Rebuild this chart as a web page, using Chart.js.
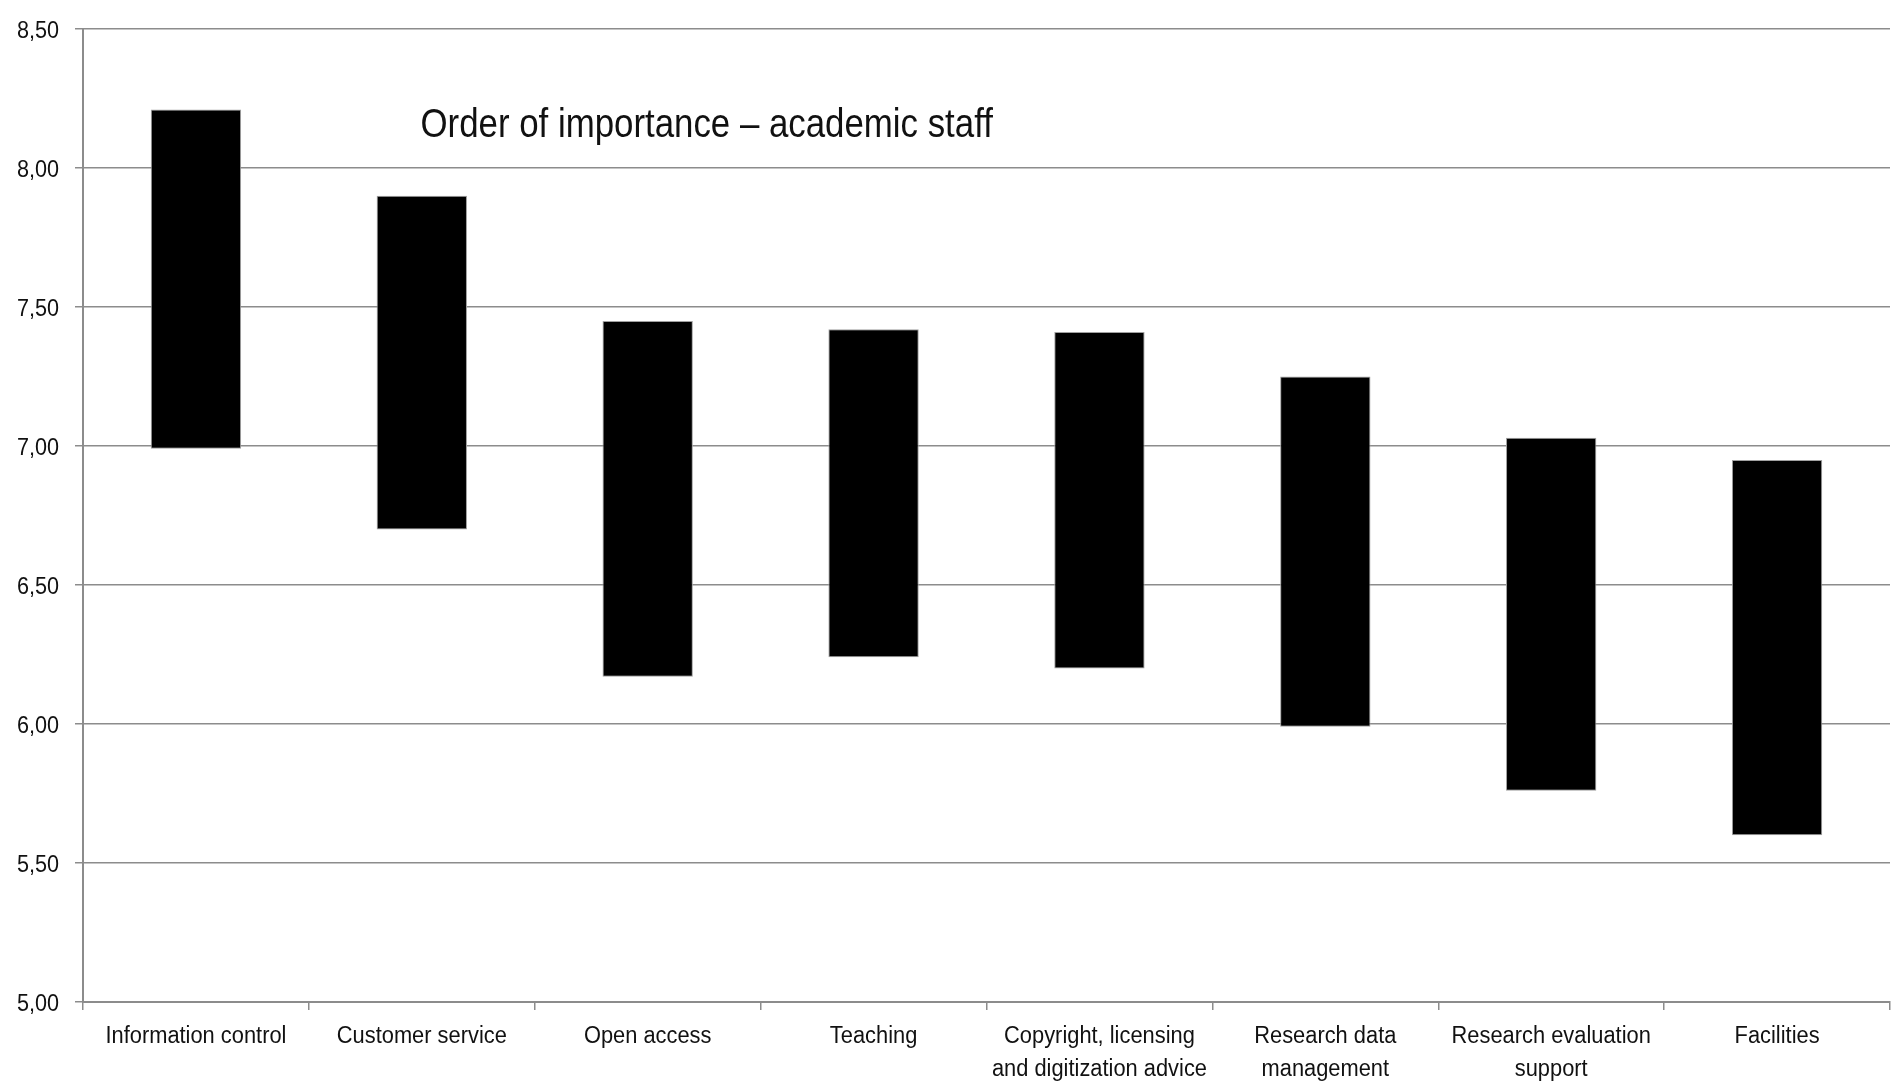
<!DOCTYPE html>
<html>
<head>
<meta charset="utf-8">
<title>Order of importance – academic staff</title>
<script src="https://cdn.jsdelivr.net/npm/chart.js@4/dist/chart.umd.min.js"></script>
<style>
    html, body { margin: 0; padding: 0; background: #fff; }
    canvas { display: block; }
</style>
</head>
<body>
<canvas id="chart" width="1895" height="1083"></canvas>
<script>
// services, in order of importance
var categories = [
    'Information control',
    'Customer service',
    'Open access',
    'Teaching',
    ['Copyright, licensing', 'and digitization advice'],
    ['Research data', 'management'],
    ['Research evaluation', 'support'],
    'Facilities'
];
// range of each bar (low end, high end)
var lowValues = [6.99, 6.70, 6.17, 6.24, 6.20, 5.99, 5.76, 5.60];
var highValues = [8.21, 7.90, 7.45, 7.42, 7.41, 7.25, 7.03, 6.95];
var yMin = 5.0;
var yMax = 8.5;
var yStep = 0.5;
var chartTitle = 'Order of importance – academic staff';

// no narrow face installed, so text is squeezed horizontally instead
var fontFamily = "'Liberation Sans', Arial, sans-serif";
var gridColor = '#8c8c8c';
var textColor = '#111111';

var ranges = [];
for (var i = 0; i < categories.length; i++) {
    ranges.push([lowValues[i], highValues[i]]);
}

function narrowText(ctx, text, x, y, align, size, squeeze) {
    ctx.save();
    ctx.font = size + 'px ' + fontFamily;
    ctx.fillStyle = textColor;
    ctx.textAlign = align;
    ctx.textBaseline = 'alphabetic';
    ctx.translate(x, y);
    ctx.scale(squeeze, 1);
    ctx.fillText(text, 0, 0);
    ctx.restore();
}

function formatTick(value) {
    return value.toFixed(2).replace('.', ',');
}

// tick labels and the title, drawn condensed
var narrowLabels = {
    id: 'narrowLabels',
    afterDraw: function(chart) {
        var ctx = chart.ctx;
        var area = chart.chartArea;
        var xs = chart.scales.x;
        var ys = chart.scales.y;

        ys.ticks.forEach(function(t) {
            narrowText(ctx, formatTick(t.value), ys.right - 24, ys.getPixelForValue(t.value) + 8.5, 'right', 24, 0.9);
        });

        categories.forEach(function(label, i) {
            var lines = Array.isArray(label) ? label : [label];
            var x = xs.getPixelForTick(i);
            lines.forEach(function(line, j) {
                narrowText(ctx, line, x, xs.top + 41 + j * 33, 'center', 23.5, 0.93);
            });
        });

        narrowText(ctx, chartTitle, area.left + 337.5, area.top + 108, 'left', 40.5, 0.86);
    }
};

var ctx = document.getElementById('chart').getContext('2d');
var chart = new Chart(ctx, {
    type: 'bar',
    data: {
        labels: categories,
        datasets: [{
            data: ranges,
            backgroundColor: '#000000',
            borderColor: '#a0a0a0',
            borderWidth: 1,
            borderSkipped: false,
            categoryPercentage: 0.4,
            barPercentage: 1.0
        }]
    },
    options: {
        responsive: false,
        animation: false,
        layout: {
            padding: { top: 29, right: 5, bottom: 0, left: 0 }
        },
        plugins: {
            legend: { display: false },
            title: { display: false },
            tooltip: { enabled: false }
        },
        scales: {
            x: {
                offset: true,
                grid: {
                    offset: true,
                    drawOnChartArea: false,
                    color: gridColor,
                    lineWidth: 1.5,
                    tickLength: 8,
                    tickWidth: 1.5
                },
                border: { color: gridColor, width: 2 },
                ticks: { display: false, autoSkip: false },
                afterFit: function(scale) {
                    scale.height = 81;
                }
            },
            y: {
                min: yMin,
                max: yMax,
                ticks: { display: false, stepSize: yStep },
                grid: {
                    color: gridColor,
                    lineWidth: 1.5,
                    tickLength: 8
                },
                border: { color: gridColor, width: 2 },
                afterFit: function(scale) {
                    scale.width = 83;
                }
            }
        }
    },
    plugins: [narrowLabels]
});
</script>
</body>
</html>
